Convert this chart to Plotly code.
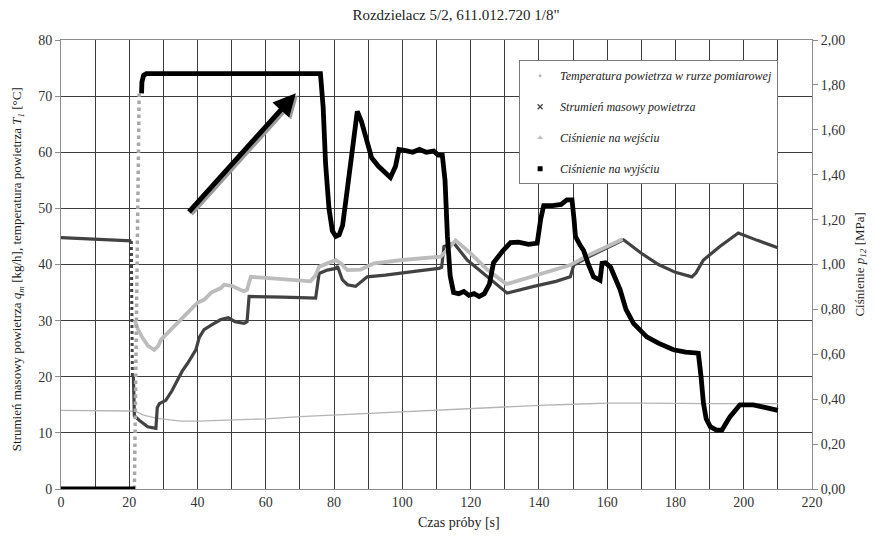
import plotly.graph_objects as go

# ---------------- data (time [s], left-axis units) ----------------
t_temp = [0, 10, 20, 22, 24, 26, 28.3, 32, 35, 40, 47, 55, 60, 70, 80, 90, 100, 110, 120, 130, 140, 150, 160, 170, 180, 190, 200, 210]
v_temp = [14.0, 14.0, 13.9, 13.8, 13.2, 12.9, 12.6, 12.3, 12.1, 12.1, 12.2, 12.4, 12.5, 12.9, 13.2, 13.4, 13.7, 14.0, 14.4, 14.6, 14.9, 15.1, 15.3, 15.3, 15.2, 15.2, 15.2, 15.2]

t_mass = [0, 20.6, None, 21.2, 21.5, 23, 25.4, 27.8, 28.2, 28.8, 30.7, 32.5, 34.1, 35.5, 37.1, 38.5, 39.5, 40.5, 41.9, 44, 46.8, 49, 51, 53.6, 54.5, 55.1, 60, 65, 70, 74.6, 75.6, 78, 80.5, 81, 82.4, 83.9, 86.3, 89.7, 95, 99.5, 105.3, 110.7, 111.5, 112.2, 115.1, 119, 125, 130.7, 138.5, 145, 149.2, 150.2, 155, 160, 164.8, 170, 175, 180, 184.8, 186, 188.2, 193, 198.4, 204, 209.2, 210]
v_mass = [44.8, 44.2, None, 20, 13, 12.2, 11.1, 10.8, 14.5, 15.2, 15.8, 17.5, 19.4, 21, 22.4, 23.8, 24.8, 27, 28.4, 29.2, 30.2, 30.5, 29.8, 29.5, 29.8, 34.3, 34.3, 34.2, 34.1, 34.0, 38.4, 39, 39.3, 39.7, 37.3, 36.4, 36.1, 37.8, 38.1, 38.4, 38.9, 39.3, 39.5, 43.2, 43.8, 40.8, 37.8, 34.9, 36.1, 37, 37.8, 39.9, 41.5, 43, 44.4, 42, 40, 38.6, 37.8, 38.5, 40.8, 43.2, 45.6, 44.3, 43.1, 43]
t_mass_jump = [20.6, 20.9]
v_mass_jump = [44.2, 20]

t_pin = [21.6, 22.5, 24, 25.5, 27.3, 28.5, 29.3, 32.2, 34, 36.1, 38, 40, 41.9, 44, 46.8, 47.8, 50, 53.6, 54.5, 55.6, 60, 65, 70, 73.1, 74.5, 75.6, 78, 80.5, 82, 83.9, 87.8, 91.7, 100, 105.3, 111.2, 113, 115.6, 120, 125, 130.5, 140, 149.2, 155, 160, 164.5]
v_pin = [30.1, 28.5, 26.8, 25.5, 24.8, 25.5, 26.6, 28.4, 29.5, 30.7, 32, 33.2, 33.7, 35, 35.8, 36.4, 36.2, 35.2, 35.5, 37.8, 37.6, 37.4, 37.2, 37.0, 38, 39.6, 40.2, 40.8, 40.2, 39.0, 39.1, 40.2, 40.8, 41.1, 41.4, 42.5, 44.3, 42, 39, 36.5, 38.3, 39.9, 41.8, 43.2, 44.5]

t_pout = [0, 21.7, None, 23.6, 23.7, 24.2, 25, 76.0, 76.8, 77.5, 78.5, 79.5, 80.5, 81.5, 82.5, 84, 85.5, 86.8, 88, 89.5, 91, 93, 95, 96.5, 98, 99, 101, 103, 105, 107, 109.2, 110.5, 111.7, 112.5, 113.2, 114, 115, 116.5, 118, 119.5, 121, 122.5, 124, 125.5, 126.7, 128, 129.5, 131.7, 134, 137, 139.5, 140.5, 141.4, 144, 146.5, 148.2, 149.7, 150.3, 150.7, 152, 153.1, 154.5, 156, 157.9, 158.5, 159.5, 161, 163.8, 165.5, 167.7, 171.6, 175, 179.4, 183, 186.7, 187.5, 188.2, 189, 190.2, 192, 193.6, 196, 198.9, 202.8, 206, 209.2, 210]
v_pout = [0, 0, None, 70.5, 72.5, 73.7, 74, 74, 68, 58, 50, 46, 45, 45.3, 47, 54, 62, 67.3, 65.5, 62, 59, 57.5, 56.5, 55.5, 57.5, 60.5, 60.3, 60, 60.5, 60, 60.2, 59.5, 59.5, 55, 45, 38, 35, 34.8, 35.2, 34.5, 34.8, 34.3, 34.8, 36.5, 40.3, 41.5, 42.5, 43.9, 44, 43.6, 43.8, 48, 50.5, 50.5, 50.7, 51.5, 51.5, 48, 45, 43.5, 42.5, 40, 37.8, 37.2, 40.2, 40.3, 39.5, 35.5, 32, 29.5, 27.1, 26, 24.8, 24.4, 24.2, 20, 15.3, 12.5, 11.1, 10.5, 10.5, 12.9, 15.0, 15.0, 14.6, 14.1, 14.0]
t_pout_jump = [21.5, 22.9]
v_pout_jump = [0, 70.5]

arrow_tail = (37.1, 49.1)
arrow_head = (68.8, 70.5)

names = ["Temperatura powietrza w rurze pomiarowej", "Strumień masowy powietrza",
         "Ciśnienie na wejściu", "Ciśnienie na wyjściu"]
right_ticks = [0, 0.2, 0.4, 0.6, 0.8, 1.0, 1.2, 1.4, 1.6, 1.8, 2.0]

SERIF = "Liberation Serif"
C_TEMP = "#b4b4b4"
C_MASS = "#424242"
C_PIN = "#bcbcbc"
C_POUT = "#000000"

fig = go.Figure()

fig.add_trace(go.Scatter(x=t_temp, y=v_temp, mode="lines", line=dict(color=C_TEMP, width=1.3), showlegend=False))
fig.add_trace(go.Scatter(x=t_mass_jump, y=v_mass_jump, mode="lines", line=dict(color=C_MASS, width=3, dash="dot"), showlegend=False))
fig.add_trace(go.Scatter(x=t_mass, y=v_mass, mode="lines", line=dict(color=C_MASS, width=3.2), showlegend=False, connectgaps=False))
fig.add_trace(go.Scatter(x=t_pin, y=v_pin, mode="lines", line=dict(color=C_PIN, width=3.8), showlegend=False))
fig.add_trace(go.Scatter(x=t_pout_jump, y=v_pout_jump, mode="lines", line=dict(color="#a8a8a8", width=3.5, dash="dot"), showlegend=False))
fig.add_trace(go.Scatter(x=t_pout, y=v_pout, mode="lines", line=dict(color=C_POUT, width=4.8), showlegend=False, connectgaps=False))

# legend-only marker entries
leg_markers = [dict(symbol="circle", size=3, color=C_TEMP),
               dict(symbol="x-thin", size=5, color=C_MASS, line=dict(width=1.2, color=C_MASS)),
               dict(symbol="triangle-up", size=5, color=C_PIN),
               dict(symbol="square", size=5, color=C_POUT)]
for i, (nm, mk) in enumerate(zip(names, leg_markers)):
    fig.add_trace(go.Scatter(x=[None], y=[None], mode="markers", marker=mk, name=nm,
                             legendgroup=f"g{i}", showlegend=True))

# invisible trace for right axis
fig.add_trace(go.Scatter(x=[None], y=[None], yaxis="y2", showlegend=False))

grid_c = "#3c3c3c"
axis_c = "#8c8c8c"
tick_font = dict(family=SERIF, size=14, color="#333333")

fig.update_layout(
    width=875, height=540,
    margin=dict(l=61, r=63, t=40, b=51),
    paper_bgcolor="white", plot_bgcolor="white",
    separators=", ",
    font=dict(family=SERIF),
    title=dict(text='Rozdzielacz 5/2, 611.012.720 1/8"', x=0.526, xref="paper", xanchor="center",
               y=0.972, yref="container", yanchor="middle",
               font=dict(family=SERIF, size=15, color="#222222")),
    xaxis=dict(range=[0, 220], dtick=20, tick0=0, showgrid=True, gridcolor=grid_c, gridwidth=1,
               minor=dict(dtick=10, showgrid=True, gridcolor=grid_c, gridwidth=1),
               showline=True, linecolor=axis_c, linewidth=1, mirror=True,
               ticks="", tickfont=tick_font, zeroline=False),
    yaxis=dict(range=[0, 80], dtick=10, showgrid=True, gridcolor=grid_c, gridwidth=1,
               showline=True, linecolor=axis_c, linewidth=1, mirror=True,
               ticks="outside", ticklen=5, tickcolor=axis_c, tickfont=tick_font, zeroline=False),
    yaxis2=dict(range=[0, 2], overlaying="y", side="right", tickvals=right_ticks, tickformat=".2f",
                showgrid=False, showline=True, linecolor=axis_c, linewidth=1,
                ticks="outside", ticklen=5, tickcolor=axis_c, tickfont=tick_font, zeroline=False),
    legend=dict(x=0.61, y=0.955, xanchor="left", yanchor="top", bgcolor="white",
                bordercolor="#7a7a7a", borderwidth=1, traceorder="grouped", tracegroupgap=12,
                font=dict(family=SERIF, size=12, color="#222222", style="italic")),
    showlegend=True,
)

# axis titles
fig.add_annotation(text="Czas próby [s]", xref="paper", yref="paper", x=0.53, y=-0.074,
                   xanchor="center", yanchor="middle", showarrow=False,
                   font=dict(family=SERIF, size=14, color="#222222"))
fig.add_annotation(text="Strumień masowy powietrza <i>q</i><sub><i>m</i></sub> [kg/h], temperatura powietrza <i>T</i><sub><i>1</i></sub> [°C]",
                   xref="paper", yref="paper", x=-0.057, y=0.49, textangle=-90,
                   xanchor="center", yanchor="middle", showarrow=False,
                   font=dict(family=SERIF, size=13, color="#222222"))
fig.add_annotation(text="Ciśnienie <i>p</i><sub><i>12</i></sub> [MPa]",
                   xref="paper", yref="paper", x=1.064, y=0.5, textangle=-90,
                   xanchor="center", yanchor="middle", showarrow=False,
                   font=dict(family=SERIF, size=13, color="#222222"))

# arrow with shadow
dx, dy = 0.6, -0.35
fig.add_annotation(x=arrow_head[0] + dx, y=arrow_head[1] + dy, ax=arrow_tail[0] + dx, ay=arrow_tail[1] + dy,
                   xref="x", yref="y", axref="x", ayref="y", text="", showarrow=True,
                   arrowhead=2, arrowsize=0.9, arrowwidth=5, arrowcolor="#9a9a9a", standoff=0)
fig.add_annotation(x=arrow_head[0], y=arrow_head[1], ax=arrow_tail[0], ay=arrow_tail[1],
                   xref="x", yref="y", axref="x", ayref="y", text="", showarrow=True,
                   arrowhead=2, arrowsize=0.9, arrowwidth=5, arrowcolor="#000000", standoff=0)

fig.write_html("out.html")
